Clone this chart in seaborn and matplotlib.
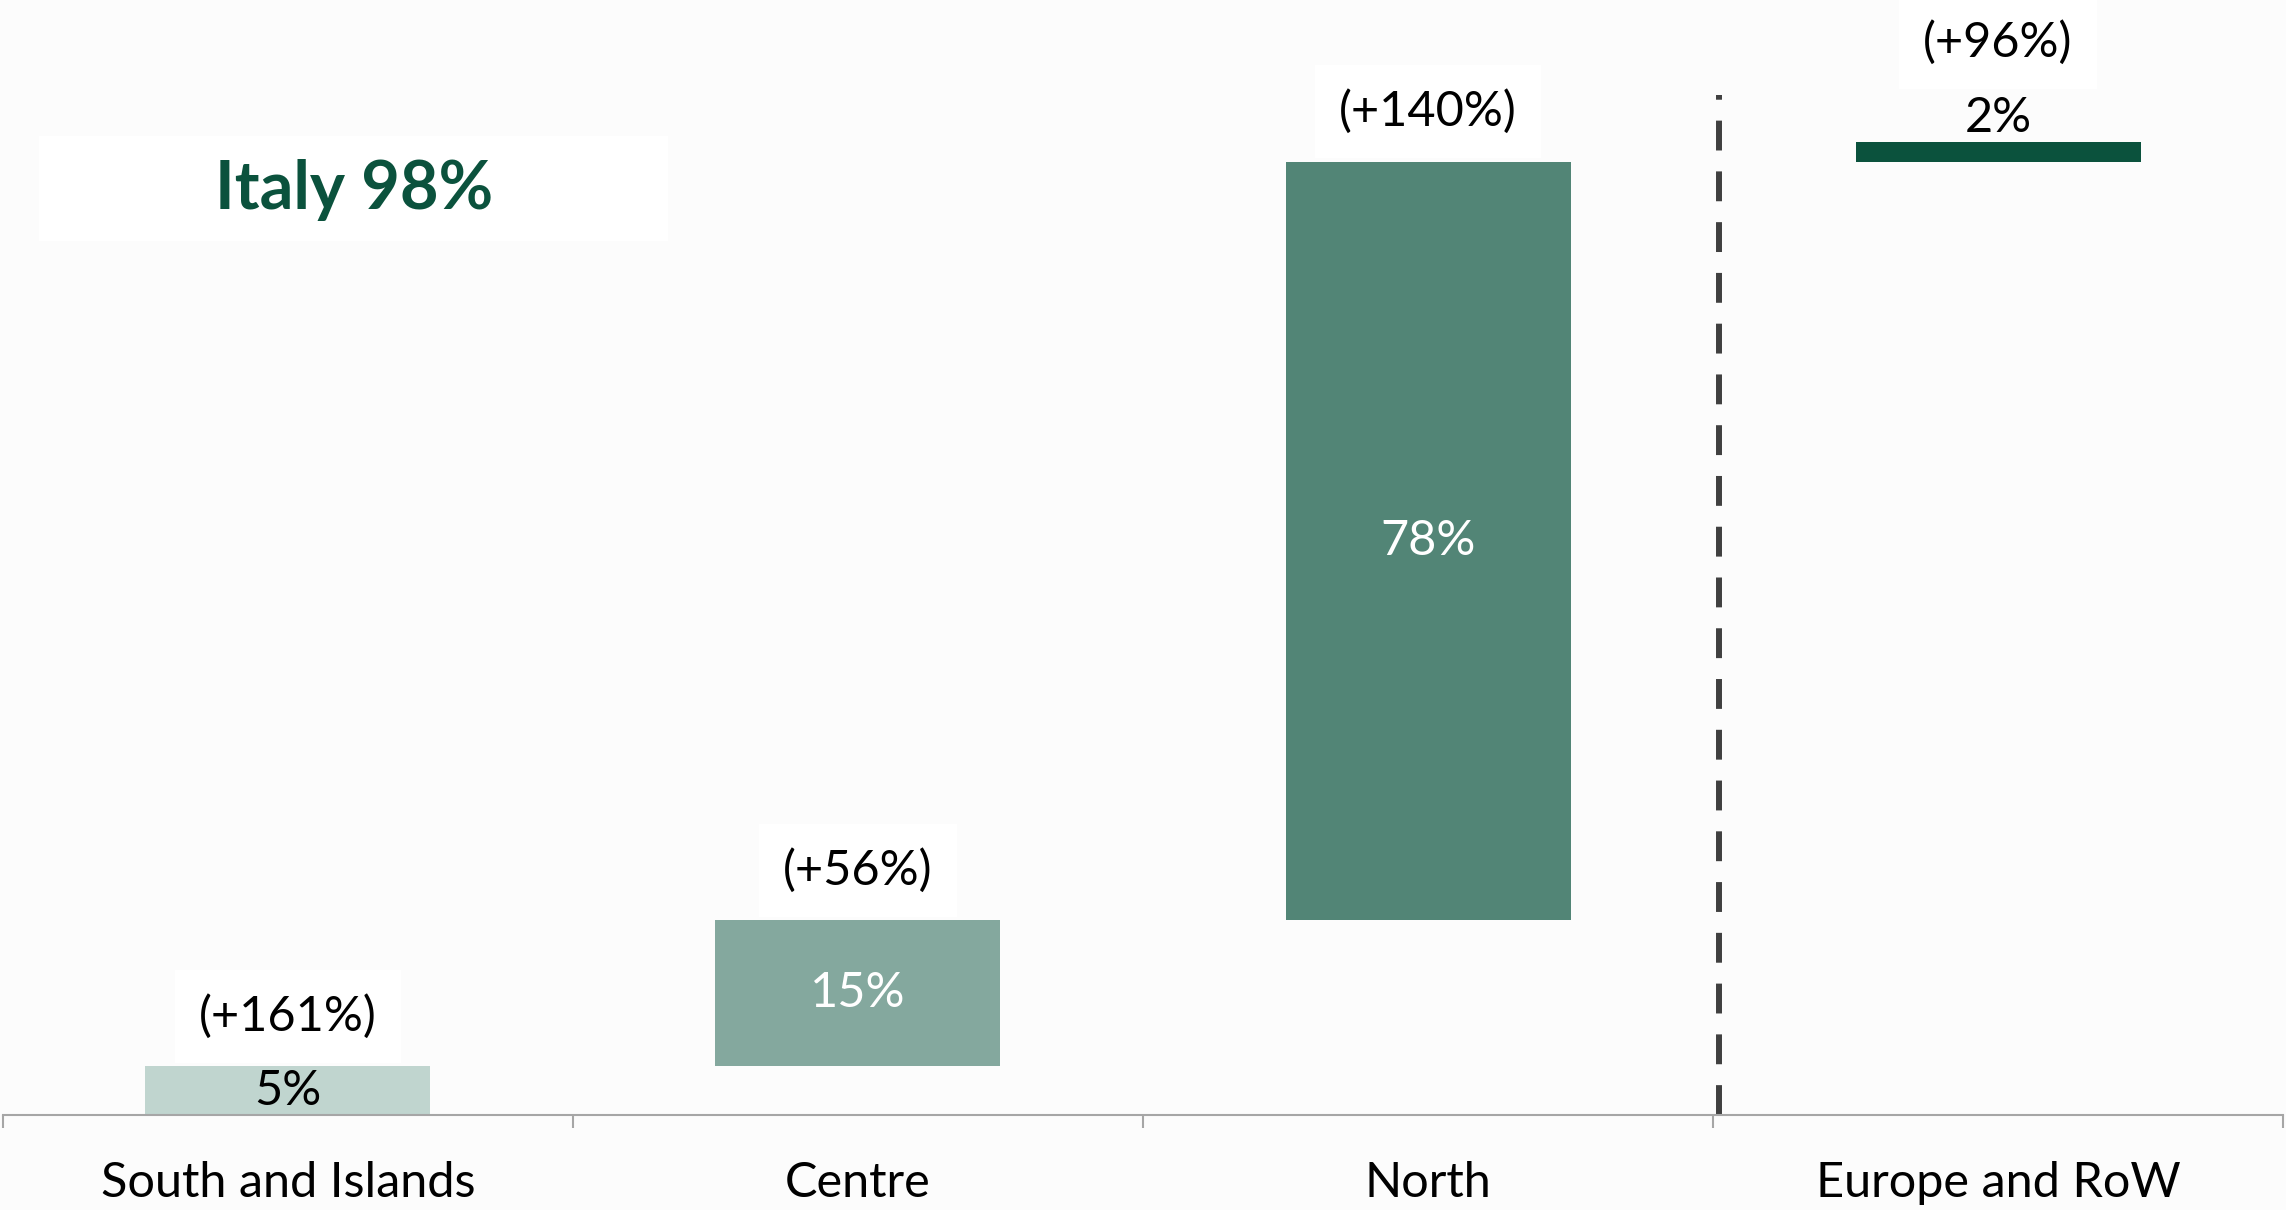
import numpy as np
import pandas as pd
import matplotlib
matplotlib.use("Agg")
import matplotlib.pyplot as plt
from matplotlib.patches import Rectangle
import seaborn as sns

# data
regions = ["South and Islands", "Centre", "North", "Europe and RoW"]
shares = [5, 15, 78, 2]
growth = ["(+161%)", "(+56%)", "(+140%)", "(+96%)"]
bar_colors = ["#C0D5CF", "#84A89E", "#528576", "#0B523D"]
label_colors = ["black", "white", "white", "black"]

bases = np.concatenate([[0], np.cumsum(shares)[:-1]])
italy_total = sum(shares[:3])

df = pd.DataFrame({"region": regions, "share": shares, "base": bases})

sns.set_style("white")
plt.rcParams["font.family"] = ["Lato", "DejaVu Sans"]

bg = "#FCFCFC"
fs = 35
fig = plt.figure(figsize=(22.86, 12.10), dpi=100, facecolor=bg)
ax = fig.add_axes([0.0013, 0.0785, 0.9974, 0.9215], facecolor=bg)

sns.barplot(data=df, x="region", y="share", bottom=df["base"].values,
            color=bar_colors[0], saturation=1, width=0.5, ax=ax)
for patch, c in zip(ax.patches, bar_colors):
    patch.set_facecolor(c)
    patch.set_edgecolor("none")

ax.set_xlim(-0.5, 3.5)
ax.set_ylim(0, 114.6)

# value labels and growth labels
for i, (s, b) in enumerate(zip(shares, bases)):
    top = b + s
    if i == 3:
        ax.annotate(f"{s}%", (i, top), xytext=(0, 17), textcoords="offset points",
                    ha="center", va="center", fontsize=fs, color=label_colors[i])
        gy = 72
    else:
        ax.text(i, b + s / 2, f"{s}%", ha="center", va="center",
                fontsize=fs, color=label_colors[i])
        gy = 36
    ax.annotate(growth[i], (i, top), xytext=(0, gy), textcoords="offset points",
                ha="center", va="center", fontsize=fs, color="black",
                bbox=dict(boxstyle="square,pad=0.5", fc="white", ec="none"))

# separator between Italy and abroad
ax.axvline(2.51, ymin=0, ymax=(114.6 - 95 / 9.73) / 114.6, color="#404040",
           linewidth=4.3, dashes=(5, 3.5))

# summary box
fig.patches.append(Rectangle((0.017, 0.801), 0.275, 0.087, transform=fig.transFigure,
                             facecolor="white", edgecolor="none", zorder=1))
fig.text(0.155, 0.843, f"Italy {italy_total}%", ha="center", va="center",
         fontsize=48, fontweight="bold", color="#0B523D", zorder=2)

# axes styling
for side in ["top", "left", "right"]:
    ax.spines[side].set_visible(False)
ax.spines["bottom"].set_color("#A6A6A6")
ax.spines["bottom"].set_linewidth(1.5)
ax.set_yticks([])
ax.set_xlabel("")
ax.set_ylabel("")
ax.set_xticks(np.arange(-0.5, 4, 1), minor=True)
ax.tick_params(axis="x", which="minor", length=9, width=1.5, color="#A6A6A6",
               direction="out", bottom=True)
ax.tick_params(axis="x", which="major", length=0, pad=33, labelsize=fs,
               labelcolor="black")

fig.savefig("out.png", dpi=100, facecolor=bg)
